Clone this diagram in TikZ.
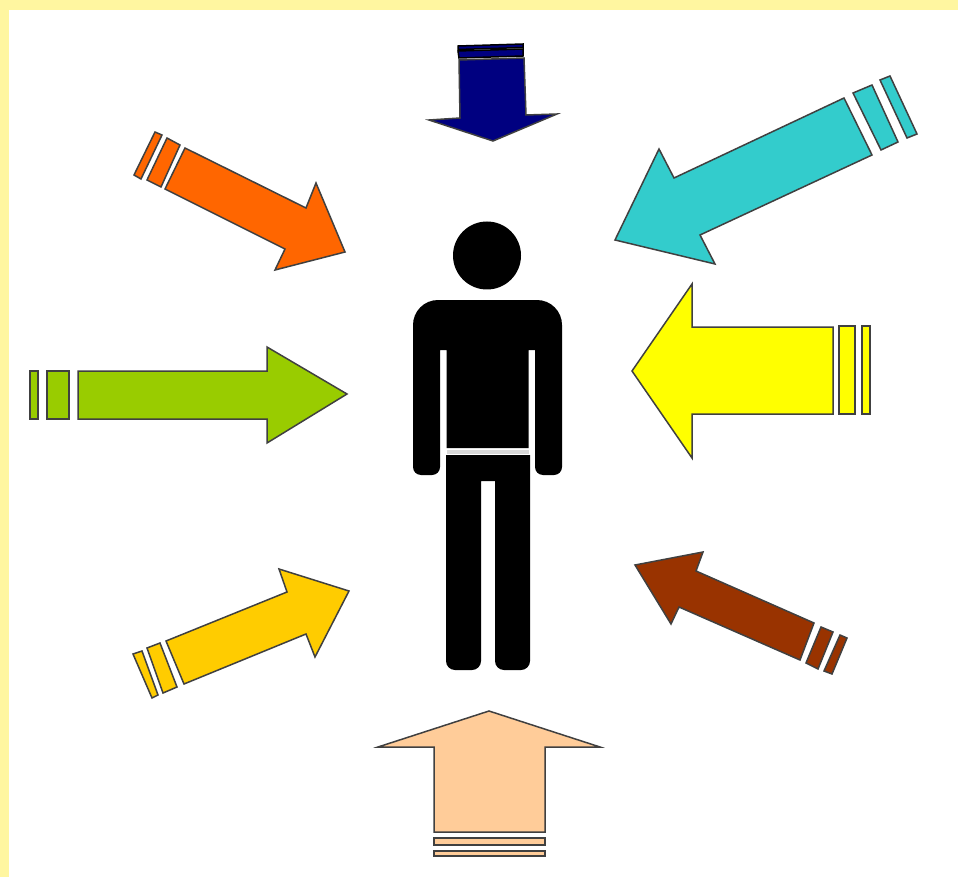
\documentclass[tikz,border=0pt]{standalone}
\definecolor{pagebg}{HTML}{FFF6A0}
\definecolor{cnavy}{HTML}{000080}
\definecolor{ccyan}{HTML}{33CCCC}
\definecolor{corange}{HTML}{FF6600}
\definecolor{cyellow}{HTML}{FFFF00}
\definecolor{cgreen}{HTML}{99CC00}
\definecolor{cgold}{HTML}{FFCC00}
\definecolor{cbrown}{HTML}{993300}
\definecolor{cpeach}{HTML}{FFCC99}
\definecolor{gapgrey}{HTML}{D8D8D8}
\tikzset{
  arrowpart/.style={draw=black!75,line width=1.5pt,line join=miter},
  figure part/.style={fill=black,draw=none}
}
\begin{document}
\begin{tikzpicture}[x=1pt,y=-1pt]
\useasboundingbox (0,0) rectangle (958,877);
\fill[pagebg] (0,0) rectangle (958,877);
\fill[white] (9,10) rectangle (958,877);
% navy
\draw[arrowpart,fill=cnavy] (459,60) -- (524,58) -- (526,115) -- (557,114) -- (493,141) -- (429,120) -- (460,118) -- cycle;
\draw[arrowpart,draw=black,fill=cnavy] (458,51) -- (523,49) -- (523,56) -- (459,58) -- cycle;
\draw[arrowpart,draw=black,fill=cnavy] (458,46) -- (523,44) -- (523,47.5) -- (458,49.5) -- cycle;
% cyan
\draw[arrowpart,fill=ccyan] (615,240) -- (659,149) -- (674,178) -- (844,98) -- (872,155) -- (700,235) -- (715,264) -- cycle;
\draw[arrowpart,fill=ccyan] (853,93) -- (872,85) -- (898,142) -- (881,150) -- cycle;
\draw[arrowpart,fill=ccyan] (880,80) -- (890,76) -- (917,134) -- (907,138) -- cycle;
% orange
\draw[arrowpart,fill=corange] (345,252) -- (275,270) -- (285,249) -- (165,189) -- (185,148) -- (306,208) -- (316,183) -- cycle;
\draw[arrowpart,fill=corange] (167,138) -- (180,145) -- (161,187) -- (147,180) -- cycle;
\draw[arrowpart,fill=corange] (155,132) -- (162,135) -- (141,179) -- (134,175) -- cycle;
% yellow
\draw[arrowpart,fill=cyellow] (632,371) -- (692,284) -- (692,327) -- (833,327) -- (833,414) -- (692,414) -- (692,458) -- cycle;
\draw[arrowpart,fill=cyellow] (839,326) rectangle (855,414);
\draw[arrowpart,fill=cyellow] (862,326) rectangle (870,414);
% green
\draw[arrowpart,fill=cgreen] (347,394) -- (267,347) -- (267,371) -- (78,371) -- (78,419) -- (267,419) -- (267,443) -- cycle;
\draw[arrowpart,fill=cgreen] (47,371) rectangle (69,419);
\draw[arrowpart,fill=cgreen] (30,371) rectangle (38,419);
% gold
\draw[arrowpart,fill=cgold] (349,591) -- (279,569) -- (287,592) -- (166,641) -- (184,684) -- (306,634) -- (315,657) -- cycle;
\draw[arrowpart,fill=cgold] (147,648) -- (160,643) -- (177,687) -- (163,693) -- cycle;
\draw[arrowpart,fill=cgold] (133,654) -- (142,651) -- (158,695) -- (152,698) -- cycle;
% brown
\draw[arrowpart,fill=cbrown] (635,565) -- (703,552) -- (696,571) -- (814,623) -- (800,660) -- (679,607) -- (671,624) -- cycle;
\draw[arrowpart,fill=cbrown] (821,627) -- (833,632) -- (818,669) -- (806,663) -- cycle;
\draw[arrowpart,fill=cbrown] (840,635) -- (847,638) -- (832,674) -- (824,671) -- cycle;
% peach
\draw[arrowpart,fill=cpeach] (489,711) -- (600,747) -- (545,747) -- (545,832) -- (434,832) -- (434,747) -- (378,747) -- cycle;
\draw[arrowpart,fill=cpeach] (434,838) rectangle (545,845);
\draw[arrowpart,fill=cpeach] (434,851) rectangle (545,856);
% person
\fill[figure part] (487,255.5) circle[radius=34];
\fill[figure part] (413,325) arc[start angle=180,end angle=270,radius=25] -- (537,300) arc[start angle=270,end angle=360,radius=25]
  -- (562,467) arc[start angle=0,end angle=90,radius=8] -- (543,475) arc[start angle=90,end angle=180,radius=8]
  -- (535,350) -- (528.5,350) -- (528.5,448) -- (446.5,448) -- (446.5,350) -- (440,350)
  -- (440,467) arc[start angle=0,end angle=90,radius=8] -- (421,475) arc[start angle=90,end angle=180,radius=8] -- cycle;
\fill[gapgrey] (446.5,449.5) rectangle (528.5,454);
\fill[figure part] (446,455) -- (530,455) -- (530,661) arc[start angle=0,end angle=90,radius=9]
  -- (504,670) arc[start angle=90,end angle=180,radius=9] -- (495,481) -- (481,481) -- (481,661)
  arc[start angle=0,end angle=90,radius=9] -- (455,670) arc[start angle=90,end angle=180,radius=9] -- cycle;
\end{tikzpicture}
\end{document}
